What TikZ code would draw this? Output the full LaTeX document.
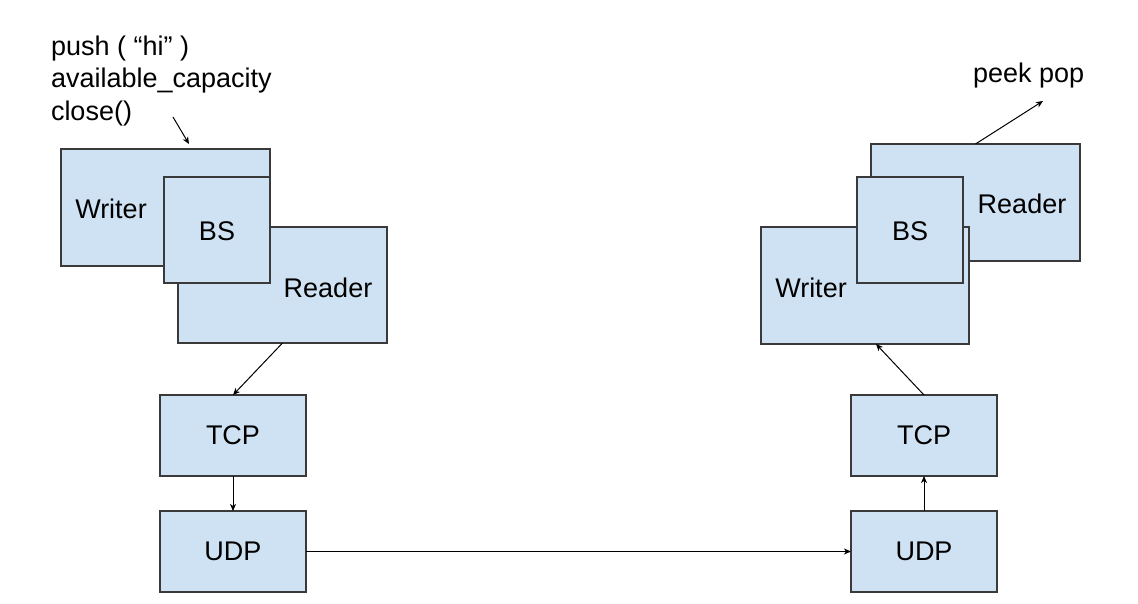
\documentclass[tikz,border=0pt]{standalone}
\usepackage{fontspec}
\setmainfont{Liberation Sans}
\usetikzlibrary{arrows.meta}
\definecolor{boxfill}{HTML}{CFE2F3}
\definecolor{boxline}{HTML}{3A3A3A}
\begin{document}
\begin{tikzpicture}[x=1pt,y=-1pt,
  every node/.style={font=\fontsize{27}{32}\selectfont, inner sep=0pt, outer sep=0pt},
  box/.style={draw=boxline, line width=1.8pt, fill=boxfill, rectangle, anchor=north west},
  lbl/.style={text=black},
  arr/.style={draw=black, line width=1pt, -{Stealth[length=7pt,width=6pt,inset=2pt]}}]
\useasboundingbox (0,0) rectangle (1138,603);
% left stack
\node[box, minimum width=209pt, minimum height=117pt] (writerL) at (61,149) {};
\node[box, minimum width=209pt, minimum height=116pt] (readerL) at (178,227) {};
\node[box, minimum width=106pt, minimum height=106pt] (bsL) at (164,177) {};
\node[lbl] (writerLt) at (111,209) {Writer};
\node[lbl] (bsLt) at (217,231) {BS};
\node[lbl] (readerLt) at (328,288) {Reader};
% right stack
\node[box, minimum width=209pt, minimum height=117pt] (readerR) at (871,144) {};
\node[box, minimum width=208pt, minimum height=117pt] (writerR) at (761,227) {};
\node[box, minimum width=106pt, minimum height=106pt] (bsR) at (857,177) {};
\node[lbl] (readerRt) at (1022,204) {Reader};
\node[lbl] (bsRt) at (910,231) {BS};
\node[lbl] (writerRt) at (811,288) {Writer};
% TCP / UDP
\node[box, minimum width=146pt, minimum height=81pt] (tcpL) at (160,395) {};
\node[box, minimum width=146pt, minimum height=81pt] (udpL) at (160,511) {};
\node[box, minimum width=146pt, minimum height=81pt] (tcpR) at (851,395) {};
\node[box, minimum width=146pt, minimum height=81pt] (udpR) at (851,511) {};
\node[lbl] (tcpLt) at (tcpL.center) {TCP};
\node[lbl] (udpLt) at (udpL.center) {UDP};
\node[lbl] (tcpRt) at (tcpR.center) {TCP};
\node[lbl] (udpRt) at (udpR.center) {UDP};
% texts
\node[anchor=base west] (t1) at (51,55) {push ( “hi” )};
\node[anchor=base west] (t2) at (51,87.5) {available\_capacity};
\node[anchor=base west] (t3) at (51,120) {close()};
\node[anchor=base west] (pp) at (973,82) {peek pop};
\coordinate (a1s) at (173,117);
\coordinate (a1e) at (189,144);
\coordinate (ppe) at (1043,101);
% connectors
\draw[arr] (a1s) -- (a1e);
\draw[arr] (readerL.south) -- (tcpL.north);
\draw[arr] (tcpL.south) -- (udpL.north);
\draw[arr] (udpL.east) -- (udpR.west);
\draw[arr] (udpR.north) -- (tcpR.south);
\draw[arr] (tcpR.north) -- ([xshift=11pt]writerR.south);
\draw[arr] (readerR.north) -- (ppe);
\end{tikzpicture}
\end{document}
